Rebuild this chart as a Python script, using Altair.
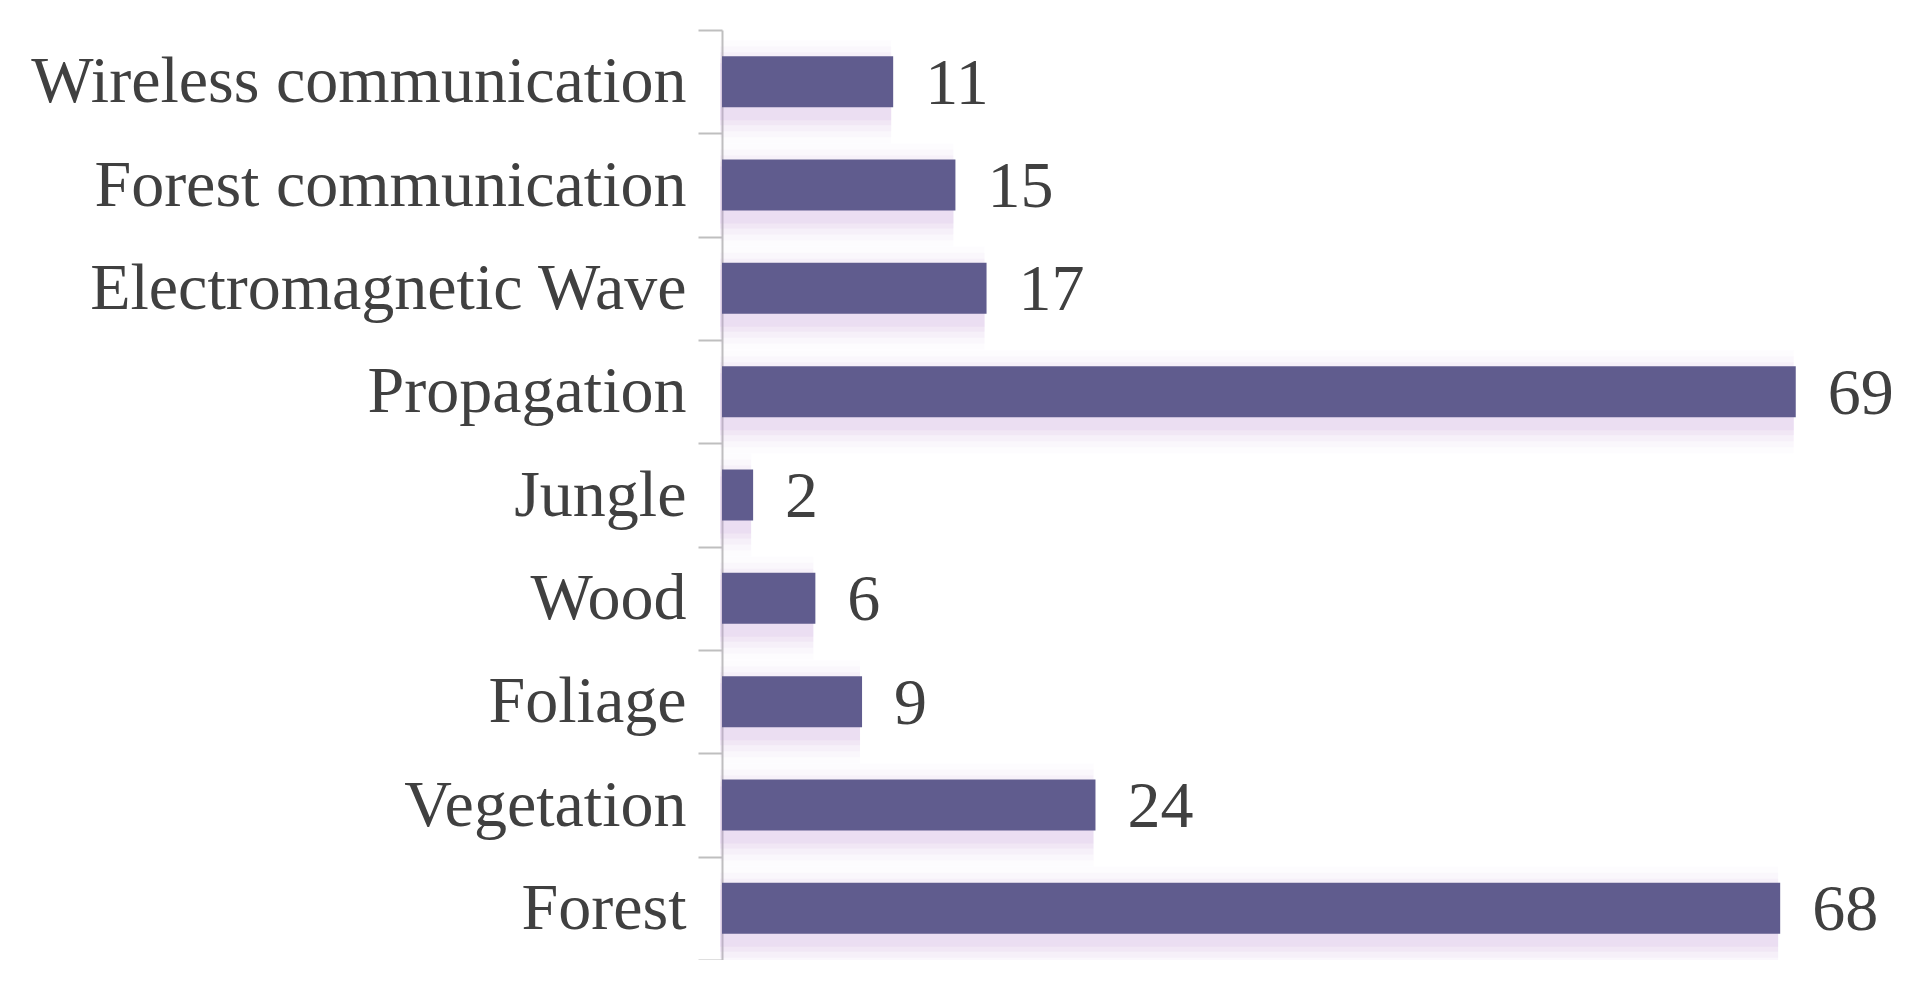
import altair as alt
import pandas as pd

categories = ["Wireless communication", "Forest communication", "Electromagnetic Wave",
              "Propagation", "Jungle", "Wood", "Foliage", "Vegetation", "Forest"]
counts = [11, 15, 17, 69, 2, 6, 9, 24, 68]

df = pd.DataFrame({"keyword": categories, "count": counts})

FONT = "Liberation Serif"
BAR = "#605c8e"
TXT = "#404040"

y_enc = alt.Y("keyword:N", sort=categories, title=None,
              scale=alt.Scale(paddingInner=0, paddingOuter=0),
              axis=alt.Axis(labelFont=FONT, labelFontSize=66, labelColor=TXT,
                            labelPadding=12, tickSize=24, tickColor="#bfbfbf",
                            tickWidth=2, domainColor="#bfbfbf", domainWidth=2,
                            tickBand="extent", labelLimit=0, grid=False))
x_enc = alt.X("count:Q", title=None, scale=alt.Scale(domain=[0, 73.9]), axis=None)

base = alt.Chart(df)

glows = []
for k, op in [(26, 0.035), (20, 0.05), (14, 0.07), (8, 0.10), (3, 0.12)]:
    glows.append(base.mark_bar(size=51 + 2 * k, yOffset=10, x2Offset=k, xOffset=-2,
                               color="#c4a0da", opacity=op).encode(y=y_enc, x=x_enc))

bars = base.mark_bar(size=51, color=BAR).encode(y=y_enc, x=x_enc)
text = base.mark_text(align="left", baseline="middle", dx=32, dy=2, font=FONT,
                      fontSize=66, color=TXT).encode(y=y_enc, x=x_enc, text="count:Q")

chart = alt.layer(*glows, bars, text).properties(
    width=1150, height=930,
    background="white",
    autosize=alt.AutoSizeParams(type="none"),
    padding={"left": 714, "top": 22, "right": 40, "bottom": 0},
).configure_view(strokeWidth=0, stroke="transparent")

chart.save("out.html", embed_options={"renderer": "svg", "actions": False})
